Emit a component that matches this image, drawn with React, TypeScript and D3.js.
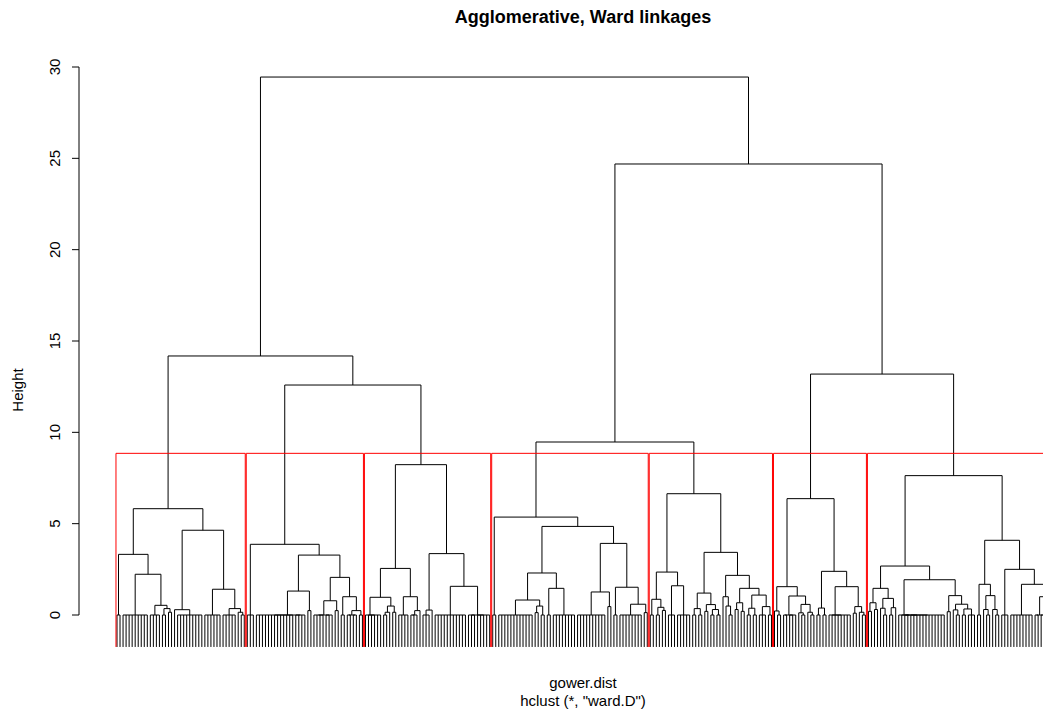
import * as d3 from 'd3';

type Tree = number | [number, Tree, Tree];

// merge heights of each of the seven clusters; a bare number is a group of leaves joined at height 0
const cluster1: Tree = [5.82, [3.32, 2, [2.23, 9, [0.53, 4, [0.35, 2, [0.15, 1, 1]]]]], [4.64, [0.29, 1, 9], [1.41, 6, [0.35, 5, [0.15, 1, 2]]]]];
const cluster2: Tree = [3.87, 3, [3.28, [1.31, [0, 13, 4], [0.24, 1, 1]], [2.06, [0.78, [0, 4, 3], [0.24, 1, 1]], [1.0, 2, [0.24, [0, 2, 2], 2]]]]];
const cluster3: Tree = [8.23, [2.55, [0.97, [0, 1, 5], [0.49, [0.15, 2, 1], [0.15, 1, 1]]], [1.0, 4, [0.24, [0, 2, 1], 1]]], [3.36, [0.27, 3, 1], [1.57, 11, [0, 3, 5]]]];
const cluster4: Tree = [5.36, 2, [4.85, [2.3, [0.82, 12, [0.49, [0.13, 1, 1], 2]], [1.46, 2, 8]], [3.92, [1.26, 10, [0.46, 1, 1]], [1.52, 2, [0.59, 8, [0.13, 1, 1]]]]]];
const cluster5: Tree = [6.64, [2.35, [0.86, 2, [0.42, [0, 1, 1], [0.25, 1, 1]]], [1.6, 3, 5]], [3.43, [1.2, [0.35, 2, 2], [0.57, [0.2, 1, 1], [0.3, [0, 1, 1], 2]]], [2.17, [1.0, 1, [0.49, 1, 2]], [1.46, [0.67, [0.3, 1, 1], [0.2, 1, 1]], [1.09, [0.37, 2, 2], [0.46, 3, 2]]]]]];
const cluster6: Tree = [6.37, [1.55, [0.22, 1, 2], [1.04, [0, 2, 3], [0.58, [0.12, 1, 2], [0.15, 1, 2]]]], [2.39, [0.38, 2, 2], [1.55, [0, 1, 7], [0.46, [0.1, 1, 1], [0.15, 1, 2]]]]];
const cluster7: Tree = [7.63, [2.68, [1.46, [0.67, [0.2, 1, 1], [0.3, 1, 1]], [0.91, [0.37, 1, 2], [0.4, 2, 1]]], [1.93, [0, 1, [0, 1, [0, 2, 12]]], [1.06, [0.18, 1, 1], [0.59, [0.28, 1, 2], [0.33, 2, 3]]]]], [4.09, [1.68, 2, [1.06, [0.3, 1, 2], [0.3, 1, 2]]], [2.5, 3, [1.68, 8, [1.0, [0, 2, 2], [0.5, 3, 3]]]]]];

// upper merges
const tree: Tree = [29.45, [14.18, cluster1, [12.59, cluster2, cluster3]], [24.69, [9.47, cluster4, cluster5], [13.19, cluster6, cluster7]]];

const yTicks = [0, 5, 10, 15, 20, 25, 30];
const nClusters = 7;
const title = 'Agglomerative, Ward linkages';
const xLabel = 'gower.dist';
const subLabel = 'hclust (*, "ward.D")';
const yLabel = 'Height';

const W = 1043;
const H = 711;
const LEAF_BOTTOM = -1.75;
const LEAF_STEP = 3.03;

interface Seg { x1: number; y1: number; x2: number; y2: number }

function countLeaves(t: Tree): number {
	return typeof t === 'number' ? t : countLeaves(t[1]) + countLeaves(t[2]);
}

function mergeHeights(t: Tree, out: number[] = []): number[] {
	if (typeof t !== 'number') {
		out.push(t[0]);
		mergeHeights(t[1], out);
		mergeHeights(t[2], out);
	}
	return out;
}

function buildDendrogram(root: Tree, cut: number) {
	const segs: Seg[] = [];
	const clusters: [number, number][] = [];
	let next = 1;

	function walk(t: Tree, parentH: number): { x: number; top: number; first: number; last: number } {
		if (typeof t === 'number') {
			const first = next;
			next += t;
			const last = next - 1;
			if (parentH >= cut) clusters.push([first, last]);
			if (t === 1) return { x: first, top: LEAF_BOTTOM, first, last };
			segs.push({ x1: first, y1: 0, x2: last, y2: 0 });
			for (let i = first; i <= last; i++) segs.push({ x1: i, y1: 0, x2: i, y2: LEAF_BOTTOM });
			return { x: (first + last) / 2, top: 0, first, last };
		}
		const [h, a, b] = t;
		const l = walk(a, h);
		const r = walk(b, h);
		segs.push({ x1: l.x, y1: h, x2: r.x, y2: h });
		segs.push({ x1: l.x, y1: h, x2: l.x, y2: l.top });
		segs.push({ x1: r.x, y1: h, x2: r.x, y2: r.top });
		if (h < cut && parentH >= cut) clusters.push([l.first, r.last]);
		return { x: (l.x + r.x) / 2, top: h, first: l.first, last: r.last };
	}

	walk(root, Infinity);
	return { segs, clusters };
}

export default function App() {
	const nLeaves = countLeaves(tree);
	const heights = mergeHeights(tree).sort((a, b) => b - a);
	const cut = (heights[nClusters - 2] + heights[nClusters - 1]) / 2;
	const { segs, clusters } = buildDendrogram(tree, cut);

	const x = d3.scaleLinear().domain([1, nLeaves]).range([117, 117 + (nLeaves - 1) * LEAF_STEP]);
	const y = d3.scaleLinear().domain([0, 30]).range([615, 67]);
	const axisX = 79;
	const font = '"Liberation Sans", Arial, sans-serif';

	// box outline: left side, top, right side (bottom edge falls on the plot border, clipped in R)
	const boxPath = (a: number, b: number) => {
		const x0 = x(a - 0.34);
		const x1 = x(b + 0.33);
		const yb = y(LEAF_BOTTOM);
		const yt = y(cut);
		return `M${x0},${yb}V${yt}H${x1}V${yb}`;
	};

	return (
		<div style={{ position: 'fixed', left: 0, top: 0 }}>
			<svg width={W} height={H} style={{ display: 'block', background: '#fff', fontFamily: font }}>
				<text x={583} y={23} textAnchor="middle" fontSize={18} fontWeight="bold">{title}</text>

				{/* y axis */}
				<line x1={axisX} x2={axisX} y1={y(0)} y2={y(30)} stroke="#000" />
				{yTicks.map((t) => (
					<g key={t}>
						<line x1={axisX - 7} x2={axisX} y1={y(t)} y2={y(t)} stroke="#000" />
						<text transform={`translate(60,${y(t)}) rotate(-90)`} textAnchor="middle" fontSize={15}>{t}</text>
					</g>
				))}
				<text transform="translate(23,390) rotate(-90)" textAnchor="middle" fontSize={15}>{yLabel}</text>

				{/* dendrogram */}
				<g stroke="#000" strokeWidth={1} fill="none">
					{segs.map((s, i) => (
						<line key={i} x1={x(s.x1)} y1={y(s.y1)} x2={x(s.x2)} y2={y(s.y2)} />
					))}
				</g>

				{/* cluster boxes */}
				<g stroke="#ff0000" strokeWidth={1} fill="none">
					{clusters.map(([a, b], i) => (
						<path key={i} d={boxPath(a, b)} />
					))}
				</g>

				<text x={583} y={688} textAnchor="middle" fontSize={15}>{xLabel}</text>
				<text x={583} y={706} textAnchor="middle" fontSize={15}>{subLabel}</text>
			</svg>
		</div>
	);
}
